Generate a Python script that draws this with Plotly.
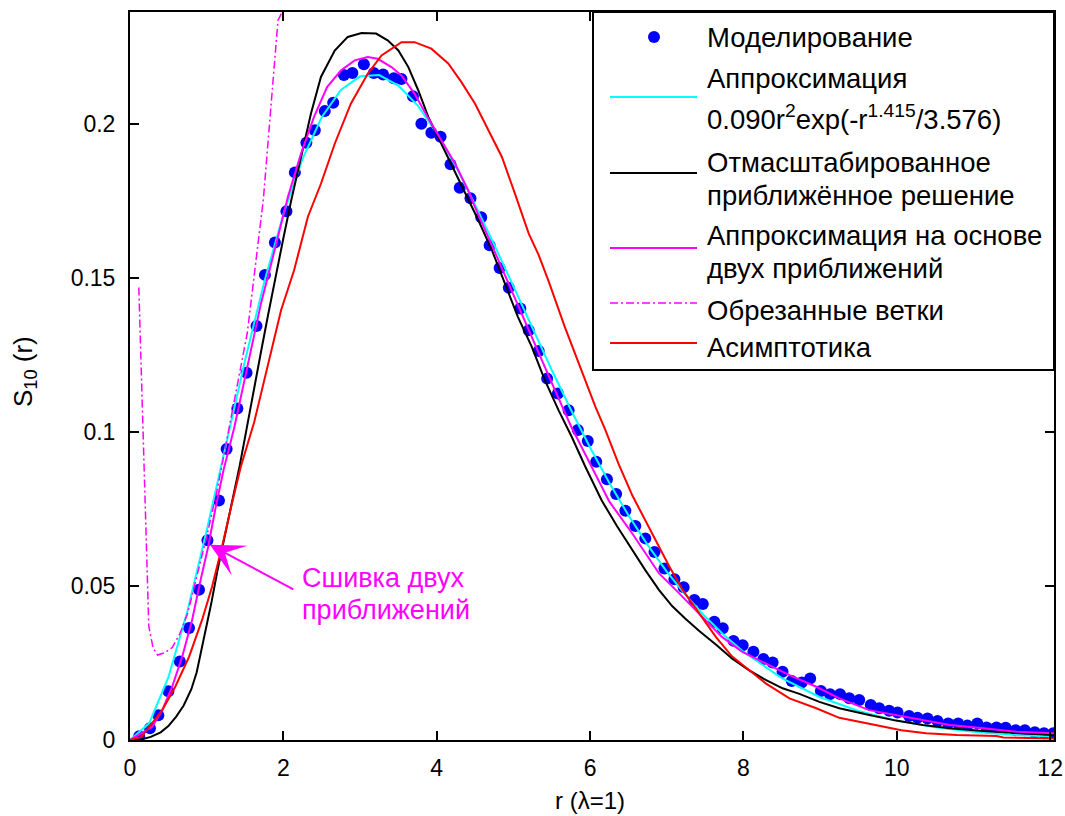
import plotly.graph_objects as go

# ---------------- data ----------------
# Monte-Carlo simulation points
sim_r = [0.12, 0.26, 0.37, 0.50, 0.65, 0.77, 0.90, 1.01, 1.16, 1.26, 1.40, 1.52, 1.65, 1.76, 1.89, 2.04,
         2.15, 2.30, 2.41, 2.54, 2.65, 2.79, 2.90, 3.05, 3.18, 3.30, 3.44, 3.54, 3.69, 3.80, 3.93, 4.05,
         4.18, 4.30, 4.44, 4.58, 4.69, 4.82, 4.94, 5.09, 5.20, 5.33, 5.44, 5.58, 5.72, 5.84, 5.97, 6.08,
         6.22, 6.34, 6.46, 6.59, 6.72, 6.84, 6.97, 7.10, 7.22, 7.36, 7.47, 7.62, 7.73, 7.87, 7.99, 8.13,
         8.26, 8.38, 8.51, 8.63, 8.76, 8.87, 9.01, 9.13, 9.26, 9.38, 9.51, 9.66, 9.77, 9.90, 10.01, 10.16,
         10.27, 10.40, 10.53, 10.67, 10.80, 10.92, 11.05, 11.17, 11.30, 11.42, 11.55, 11.67, 11.80, 11.92, 12.04]
sim_s = [0.0012, 0.0038, 0.0080, 0.0158, 0.0255, 0.0364, 0.0488, 0.0649, 0.0778, 0.0945, 0.1077, 0.1193,
         0.1345, 0.1511, 0.1616, 0.1718, 0.1844, 0.1940, 0.1981, 0.2043, 0.2070, 0.2160, 0.2167, 0.2195,
         0.2167, 0.2162, 0.2150, 0.2147, 0.2091, 0.2002, 0.1973, 0.1960, 0.1870, 0.1794, 0.1760, 0.1698,
         0.1607, 0.1533, 0.1469, 0.1402, 0.1331, 0.1264, 0.1174, 0.1126, 0.1071, 0.1007, 0.0971, 0.0904,
         0.0847, 0.0799, 0.0745, 0.0695, 0.0655, 0.0611, 0.0557, 0.0522, 0.0496, 0.0455, 0.0442, 0.0384,
         0.0363, 0.0322, 0.0308, 0.0287, 0.0263, 0.0252, 0.0222, 0.0192, 0.0187, 0.0200, 0.0159, 0.0149,
         0.0149, 0.0136, 0.0130, 0.0114, 0.0103, 0.0095, 0.0089, 0.0078, 0.0072, 0.0070, 0.0062, 0.0054,
         0.0054, 0.0047, 0.0054, 0.0041, 0.0041, 0.0040, 0.0032, 0.0032, 0.0025, 0.0022, 0.0022]

# fitted curve 0.090 r^2 exp(-r^1.415/3.576), tabulated
fit_r = [0, 0.25, 0.5, 0.75, 1.0, 1.25, 1.5, 1.75, 2.0, 2.25, 2.5, 2.75, 3.0, 3.25, 3.5, 3.75, 4.0,
         4.25, 4.5, 4.75, 5.0, 5.25, 5.5, 5.75, 6.0, 6.25, 6.5, 6.75, 7.0, 7.25, 7.5, 7.75, 8.0,
         8.5, 9.0, 9.5, 10.0, 10.5, 11.0, 11.5, 12.0]
fit_s = [0, 0.0054, 0.0203, 0.0420, 0.0681, 0.0958, 0.1233, 0.1487, 0.1708, 0.1888, 0.2023, 0.2112,
         0.2156, 0.2160, 0.2126, 0.2062, 0.1971, 0.1863, 0.1739, 0.1609, 0.1473, 0.1336, 0.1202, 0.1073,
         0.0950, 0.0836, 0.0730, 0.0634, 0.0547, 0.0470, 0.0401, 0.0340, 0.0287, 0.0201, 0.0139, 0.0094,
         0.0063, 0.0041, 0.0027, 0.0017, 0.0011]

# rescaled approximate solution
blk_r = [0, 0.15, 0.27, 0.4, 0.5, 0.6, 0.7, 0.8, 0.87, 0.97, 1.06, 1.14, 1.24, 1.33, 1.43, 1.52, 1.6,
         1.7, 1.8, 1.9, 2.0, 2.1, 2.23, 2.36, 2.49, 2.67, 2.84, 3.02, 3.21, 3.36, 3.50, 3.63, 3.76, 3.89,
         4.06, 4.24, 4.41, 4.54, 4.72, 4.89, 5.06, 5.24, 5.41, 5.59, 5.76, 5.94, 6.15, 6.35, 6.55, 6.72,
         6.90, 7.07, 7.24, 7.42, 7.64, 7.85, 8.07, 8.29, 8.51, 8.73, 8.99, 9.25, 9.64, 9.99, 10.34, 10.69,
         11.13, 11.56, 12.05]
blk_s = [0, 0.0002, 0.0010, 0.0025, 0.0045, 0.0075, 0.0112, 0.0165, 0.0220, 0.0336, 0.0444, 0.0550,
         0.0665, 0.0775, 0.0890, 0.1010, 0.1120, 0.1250, 0.1380, 0.1510, 0.1630, 0.1750, 0.1894, 0.2035,
         0.2154, 0.2240, 0.2284, 0.2297, 0.2295, 0.2273, 0.2240, 0.2186, 0.2110, 0.2024, 0.1937, 0.1845,
         0.1755, 0.1690, 0.1591, 0.1483, 0.1374, 0.1277, 0.1169, 0.1071, 0.0985, 0.0887, 0.0779, 0.0695,
         0.0617, 0.0552, 0.0487, 0.0435, 0.0395, 0.0355, 0.0310, 0.0265, 0.0227, 0.0195, 0.0168, 0.0150,
         0.0124, 0.0103, 0.0081, 0.0063, 0.0049, 0.0038, 0.0029, 0.0022, 0.0016]

# approximation stitched from two approximations
mag_r = [0, 0.15, 0.29, 0.42, 0.55, 0.68, 0.81, 0.92, 1.02, 1.11, 1.22, 1.36, 1.53, 1.71, 1.88, 2.06,
         2.23, 2.40, 2.57, 2.75, 2.93, 3.10, 3.23, 3.41, 3.54, 3.71, 3.88, 4.06, 4.24, 4.41, 4.50, 4.75,
         5.0, 5.25, 5.5, 5.75, 6.0, 6.25, 6.55, 6.72, 6.90, 7.12, 7.29, 7.51, 7.72, 7.98, 8.29, 8.60,
         8.95, 9.25, 9.64, 9.99, 10.34, 10.69, 11.13, 11.56, 12.05]
mag_s = [0, 0.0022, 0.0043, 0.0097, 0.0173, 0.0270, 0.0390, 0.0519, 0.0628, 0.0747, 0.0877, 0.1015,
         0.1210, 0.1420, 0.1585, 0.1765, 0.1905, 0.2024, 0.2121, 0.2175, 0.2208, 0.2219, 0.2213, 0.2186,
         0.2159, 0.2100, 0.2024, 0.1948, 0.1872, 0.1786, 0.1730, 0.1590, 0.1445, 0.1300, 0.1160, 0.1020,
         0.0895, 0.0775, 0.0671, 0.0606, 0.0541, 0.0487, 0.0444, 0.0390, 0.0335, 0.0287, 0.0249, 0.0211,
         0.0173, 0.0135, 0.0097, 0.0081, 0.0065, 0.0049, 0.0038, 0.0027, 0.0022]

# truncated branches
cut_r = [0.115, 0.18, 0.245, 0.30, 0.36, 0.45, 0.55, 0.65, 0.75, 0.85, 1.0, 1.14, 1.30, 1.53, 1.74,
         1.93, 1.985]
cut_s = [0.147, 0.088, 0.037, 0.030, 0.0276, 0.0283, 0.030, 0.0345, 0.0410, 0.051, 0.066, 0.0816,
         0.1025, 0.1323, 0.1758, 0.2338, 0.2365]

# asymptotic curve
red_r = [0, 0.15, 0.42, 0.59, 0.77, 0.94, 1.07, 1.20, 1.33, 1.445, 1.62, 1.79, 1.97, 2.14, 2.32, 2.49,
         2.67, 2.88, 3.10, 3.28, 3.54, 3.71, 3.93, 4.15, 4.32, 4.50, 4.67, 4.85, 5.02, 5.20, 5.33, 5.46,
         5.67, 5.85, 6.07, 6.20, 6.37, 6.55, 6.72, 6.85, 7.03, 7.20, 7.42, 7.64, 7.85, 8.07, 8.29, 8.60,
         8.95, 9.25, 9.64, 9.88, 10.06, 10.38, 10.78, 11.30, 11.39, 12.05]
red_s = [0, 0.0010, 0.0097, 0.0173, 0.0270, 0.0390, 0.0498, 0.0628, 0.0769, 0.0888, 0.1033, 0.1207,
         0.1396, 0.1526, 0.1700, 0.1807, 0.1937, 0.2067, 0.2164, 0.2224, 0.2267, 0.2267, 0.2246, 0.2198,
         0.2138, 0.2067, 0.1981, 0.1894, 0.1775, 0.1645, 0.1575, 0.1490, 0.1342, 0.1223, 0.1082, 0.1007,
         0.0898, 0.0795, 0.0712, 0.0650, 0.0565, 0.0490, 0.0411, 0.0335, 0.0272, 0.0227, 0.0184, 0.0135,
         0.0103, 0.0072, 0.0052, 0.0040, 0.0032, 0.0022, 0.0016, 0.0013, 0.0008, 0.0005]

x_ticks = [0, 2, 4, 6, 8, 10, 12]
x_tick_labels = ["0", "2", "4", "6", "8", "10", "12"]
y_ticks = [0, 0.05, 0.1, 0.15, 0.2]
y_tick_labels = ["0", "0.05", "0.1", "0.15", "0.2"]

legend_labels = [
    ["Моделирование"],
    ["Аппроксимация", "0.090r<sup>2</sup>exp(-r<sup>1.415</sup>/3.576)"],
    ["Отмасштабированное", "приближённое решение"],
    ["Аппроксимация на основе", "двух приближений"],
    ["Обрезанные ветки"],
    ["Асимптотика"],
]
callout_lines = ["Сшивка двух", "приближений"]

# ---------------- figure ----------------
FONT = "Liberation Sans, Arial, sans-serif"
W, H = 1065, 816
L, R, T, B = 130, 1054, 12, 740          # plot box in pixels


def fx(p):
    return (p - L) / (R - L)


def fy(p):
    return (B - p) / (B - T)


BLUE, CYAN, MAG, RED = "#0000ff", "#00ffff", "#ff00ff", "#ff0000"
DASHDOT = "8px,3px,2px,3px"

fig = go.Figure()
fig.add_trace(go.Scatter(x=sim_r, y=sim_s, mode="markers",
                         marker=dict(color=BLUE, size=12, line=dict(width=0))))
fig.add_trace(go.Scatter(x=fit_r, y=fit_s, mode="lines", line=dict(color=CYAN, width=2)))
fig.add_trace(go.Scatter(x=blk_r, y=blk_s, mode="lines", line=dict(color="black", width=2)))
fig.add_trace(go.Scatter(x=mag_r, y=mag_s, mode="lines", line=dict(color=MAG, width=2)))
fig.add_trace(go.Scatter(x=cut_r, y=cut_s, mode="lines",
                         line=dict(color=MAG, width=1.5, dash=DASHDOT)))
fig.add_trace(go.Scatter(x=red_r, y=red_s, mode="lines", line=dict(color=RED, width=2)))

axis_common = dict(ticks="inside", ticklen=9, tickwidth=2, tickcolor="black",
                   showline=True, linewidth=2, linecolor="black", mirror="ticks",
                   showgrid=False, zeroline=False, automargin=False,
                   tickfont=dict(family=FONT, size=23, color="black"))

fig.update_layout(
    width=W, height=H,
    margin=dict(l=L, r=W - R, t=T, b=H - B, pad=0),
    paper_bgcolor="white", plot_bgcolor="white",
    showlegend=False,
    font=dict(family=FONT, color="black"),
    xaxis=dict(range=[0, 12.05], tickvals=x_ticks, ticktext=x_tick_labels,
               ticklabelstandoff=6, **axis_common),
    yaxis=dict(range=[0, 0.2365], tickvals=y_ticks, ticktext=y_tick_labels,
               ticklabelstandoff=8, **axis_common),
)

shapes = []
annotations = []

# legend box
shapes.append(dict(type="rect", xref="paper", yref="paper", x0=fx(593), x1=fx(1054),
                   y0=fy(370), y1=fy(12), fillcolor="white", line=dict(color="black", width=2),
                   layer="above"))
# legend samples
shapes.append(dict(type="circle", xref="paper", yref="paper", x0=fx(648), x1=fx(660),
                   y0=fy(43), y1=fy(31), fillcolor=BLUE, line=dict(width=0)))
sample_rows = [(97, CYAN, "solid", 2), (173, "black", "solid", 2), (248, MAG, "solid", 2),
               (303, MAG, DASHDOT, 1.5), (343, RED, "solid", 2)]
for yy, col, dash, w in sample_rows:
    shapes.append(dict(type="line", xref="paper", yref="paper", x0=fx(610), x1=fx(697),
                       y0=fy(yy), y1=fy(yy), line=dict(color=col, width=w, dash=dash)))

text_rows = [38, 78, 117, 162, 195, 235, 268, 310, 347]
flat_labels = [t for group in legend_labels for t in group]
for yy, txt in zip(text_rows, flat_labels):
    annotations.append(dict(xref="paper", yref="paper", x=fx(705), y=fy(yy), xanchor="left",
                            yanchor="middle", text=txt, showarrow=False,
                            font=dict(family=FONT, size=27.5, color="black")))

# axis titles
annotations.append(dict(xref="paper", yref="paper", x=fx(590), y=fy(800), text="r (λ=1)",
                        showarrow=False, xanchor="center", yanchor="middle",
                        font=dict(family=FONT, size=24, color="black")))
annotations.append(dict(xref="paper", yref="paper", x=fx(24), y=fy(372), text="S<sub>10</sub> (r)",
                        textangle=-90, showarrow=False, xanchor="center", yanchor="middle",
                        font=dict(family=FONT, size=26, color="black")))

# stitching point callout
annotations.append(dict(xref="x", yref="y", x=1.043, y=0.0634, axref="x", ayref="y",
                        ax=2.15, ay=0.0487, text="", showarrow=True, arrowhead=3,
                        arrowsize=2.8, arrowwidth=2, arrowcolor=MAG, standoff=0, startstandoff=0))
for yy, txt in zip([578, 610], callout_lines):
    annotations.append(dict(xref="paper", yref="paper", x=fx(300), y=fy(yy), text=txt,
                            showarrow=False, xanchor="left", yanchor="middle",
                            font=dict(family=FONT, size=27, color=MAG)))

fig.update_layout(shapes=shapes, annotations=annotations)

fig.write_html("out.html")
